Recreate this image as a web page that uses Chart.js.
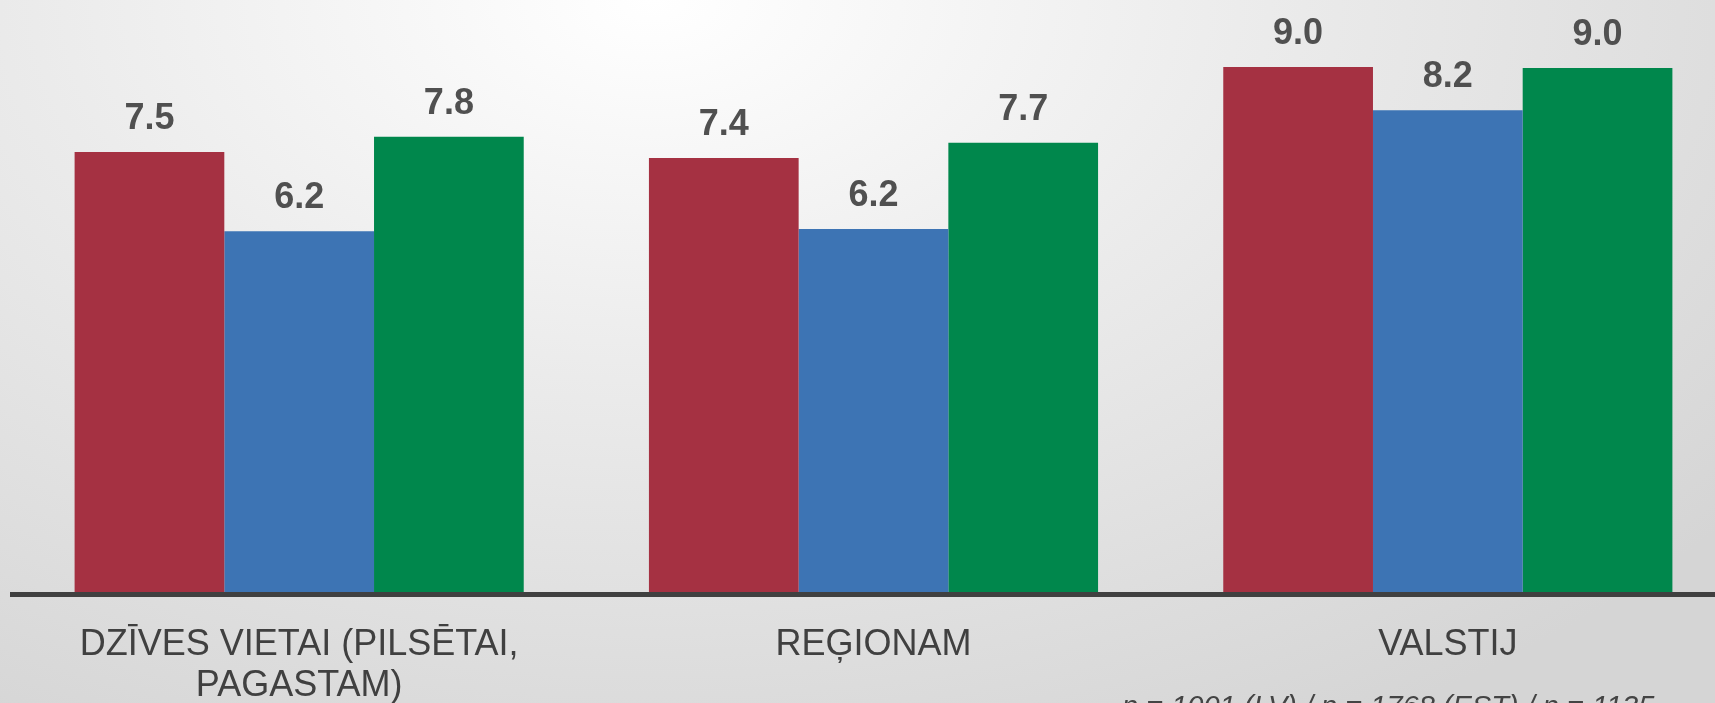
<!DOCTYPE html>
<html lang="lv">
<head>
<meta charset="UTF-8">
<title>Vērtējums</title>
<script src="https://cdn.jsdelivr.net/npm/chart.js@4.4.1/dist/chart.umd.min.js"></script>
<style>
  html, body { margin: 0; padding: 0; width: 1715px; height: 703px; overflow: hidden; }
  body {
    position: relative;
    background: radial-gradient(ellipse 80% 120% at 38% 0%, #ffffff 0%, #ebebeb 45%, #d5d5d5 100%);
    font-family: "Liberation Sans", Arial, sans-serif;
  }
  #wrap { position: absolute; left: 0; top: 0; width: 1740px; height: 737px; }
  #note { position: absolute; left: 1122px; top: 691px; font-size: 29px; line-height: 30px; font-style: italic; color: #444; white-space: nowrap; }
</style>
</head>
<body>
<div id="wrap"><canvas id="chart" width="1740" height="737"></canvas></div>
<div id="note"></div>

<script>
// Dati //
const categories = [['DZĪVES VIETAI (PILSĒTAI,', 'PAGASTAM)'], 'REĢIONAM', 'VALSTIJ'];
const seriesNames = ['LV', 'EST', 'LT'];
const valuesLV = [7.53, 7.43, 8.98];
const valuesEST = [6.18, 6.22, 8.24];
const valuesLT = [7.79, 7.69, 8.96];
const seriesColors = ['#a53142', '#3d74b4', '#00874c'];
const footnote = 'n = 1001 (LV) / n = 1768 (EST) / n = 1135';

const fontFamily = '"Liberation Sans", Arial, sans-serif';

document.getElementById('note').textContent = footnote;

// Vērtības virs stabiņiem
const valueLabels = {
    id: 'valueLabels',
    afterDatasetsDraw(chart) {
        const ctx = chart.ctx;
        ctx.save();
        ctx.font = `bold 36px ${fontFamily}`;
        ctx.fillStyle = '#505050';
        ctx.textAlign = 'center';
        ctx.textBaseline = 'alphabetic';
        chart.data.datasets.forEach((ds, i) => {
            chart.getDatasetMeta(i).data.forEach((bar, j) => {
                ctx.fillText(ds.data[j].toFixed(1), bar.x, bar.y - 23);
            });
        });
        ctx.restore();
    }
};

const allValues = [valuesLV, valuesEST, valuesLT];

const ctx = document.getElementById('chart').getContext('2d');
new Chart(ctx, {
    type: 'bar',
    data: {
        labels: categories,
        datasets: seriesNames.map((name, i) => ({
            label: name,
            data: allValues[i],
            backgroundColor: seriesColors[i],
            borderWidth: 0,
            barPercentage: 1,
            categoryPercentage: 0.782
        }))
    },
    options: {
        responsive: false,
        animation: false,
        layout: { padding: { left: 12, right: 5, top: 7, bottom: 0 } },
        plugins: {
            legend: { display: false },
            tooltip: { enabled: false }
        },
        scales: {
            x: {
                grid: { display: false, drawTicks: false },
                border: { display: true, color: '#404040', width: 5, z: 1 },
                ticks: {
                    color: '#404040',
                    font: { family: fontFamily, size: 36, lineHeight: 1.15 },
                    padding: 30,
                    maxRotation: 0,
                    autoSkip: false
                }
            },
            y: { display: false, min: 0, max: 10 }
        }
    },
    plugins: [valueLabels]
});
</script>
</body>
</html>
